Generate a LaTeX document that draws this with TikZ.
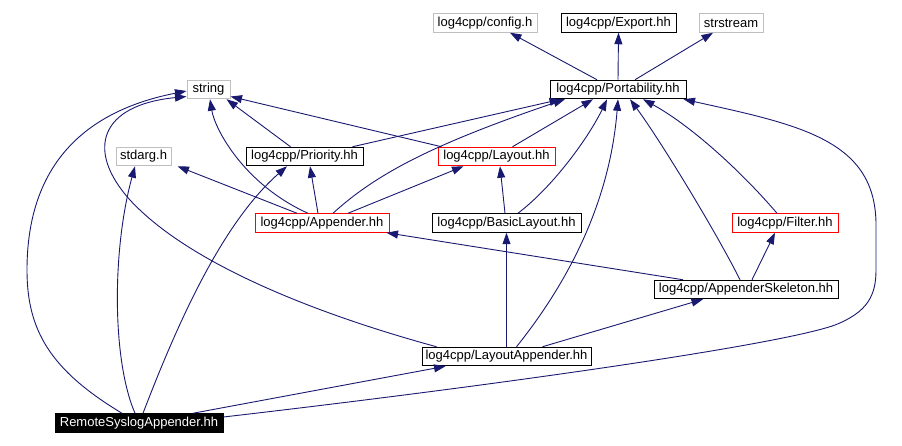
\documentclass[tikz,border=0pt]{standalone}
\usepackage{fontspec}
\setmainfont{Liberation Sans}
\usetikzlibrary{arrows.meta}
\definecolor{dxedge}{HTML}{191970}
\definecolor{dxgray}{HTML}{BFBFBF}
\definecolor{dxred}{HTML}{FF0000}
\tikzset{
  hdr/.style={draw=black,line width=1pt,fill=white,inner sep=0pt,
              minimum height=18.5pt,font=\fontsize{13}{15}\selectfont,text=black},
  syshdr/.style={hdr,draw=dxgray},
  trunc/.style={hdr,draw=dxred},
  selfhdr/.style={hdr,fill=black,text=white},
  inc/.style={-{Triangle[length=11.5pt,width=8pt]},line width=0.9pt,draw=dxedge},
}

\begin{document}
\begin{tikzpicture}[x=1pt,y=-1pt]
  \useasboundingbox (0,0) rectangle (902,446);
  % ================= headers =================
  \node[syshdr,minimum width=104pt] (cfg)   at (485,23)    {log4cpp/config.h};
  \node[hdr,minimum width=115pt]    (exp)   at (618.5,23)  {log4cpp/Export.hh};
  \node[syshdr,minimum width=64pt]  (sst)   at (731,23)    {strstream};
  \node[hdr,minimum width=136pt]    (port)  at (618,89.5)  {log4cpp/Portability.hh};
  \node[syshdr,minimum width=43pt]  (str)   at (208.5,89.5){string};
  \node[syshdr,minimum width=55pt]  (std)   at (143.5,156.5){stdarg.h};
  \node[hdr,minimum width=117pt]    (prio)  at (304.5,156.5){log4cpp/Priority.hh};
  \node[trunc,minimum width=117pt]  (lay)   at (496.5,156.5){log4cpp/Layout.hh};
  \node[trunc,minimum width=134pt]  (app)   at (322,223)   {log4cpp/Appender.hh};
  \node[hdr,minimum width=149pt]    (basic) at (506.5,223) {log4cpp/BasicLayout.hh};
  \node[trunc,minimum width=106pt]  (filt)  at (785,223)   {log4cpp/Filter.hh};
  \node[hdr,minimum width=184pt]    (skel)  at (746,289.5) {log4cpp/AppenderSkeleton.hh};
  \node[hdr,minimum width=169pt]    (lapp)  at (506.5,356.5){log4cpp/LayoutAppender.hh};
  \node[selfhdr,minimum width=168pt](rsa)   at (139,423)   {RemoteSyslogAppender.hh};

  % ================= Portability.hh =================
  \draw[inc] ([xshift=-21]port.north) -- ([xshift=25]cfg.south);
  \draw[inc] (port.north) -- (exp.south);
  \draw[inc] ([xshift=17]port.north) -- ([xshift=-18]sst.south);

  % ================= Priority.hh / Layout.hh =================
  \draw[inc] ([xshift=-14]prio.north) -- ([xshift=18]str.south);
  \draw[inc] ([xshift=48]prio.north) -- ([xshift=-57]port.south);
  \draw[inc] ([xshift=-55]lay.north) -- ([yshift=-7]str.east);
  \draw[inc] ([xshift=16]lay.north) -- ([xshift=-25]port.south);

  % ================= Appender.hh =================
  \draw[inc] ([xshift=-14]app.north) .. controls (245,185) and (215,130) .. ([xshift=1.5]str.south);
  \draw[inc] ([xshift=-25]app.north) -- ([xshift=34]std.south);
  \draw[inc] ([xshift=-4]app.north) -- ([xshift=5.5]prio.south);
  \draw[inc] ([xshift=26]app.north) -- ([xshift=-33]lay.south);
  \draw[inc] ([xshift=11]app.north) .. controls (375,175) and (430,145) .. ([xshift=-53]port.south);

  % ================= BasicLayout.hh / Filter.hh =================
  \draw[inc] ([xshift=-1.5]basic.north) -- ([xshift=3.5]lay.south);
  \draw[inc] ([xshift=11.5]basic.north) .. controls (555,185) and (590,135) .. ([xshift=-11]port.south);
  \draw[inc] ([xshift=-8]filt.north) .. controls (740,170) and (690,125) .. ([xshift=25]port.south);

  % ================= AppenderSkeleton.hh =================
  \draw[inc] ([xshift=-63]skel.north) -- ([xshift=-3]app.south east);
  \draw[inc] ([xshift=6]skel.north) -- ([xshift=-10]filt.south);
  \draw[inc] ([xshift=-6]skel.north) .. controls (715,230) and (660,140) .. ([xshift=12]port.south);

  % ================= LayoutAppender.hh =================
  \draw[inc] (lapp.north) -- (basic.south);
  \draw[inc] ([xshift=36]lapp.north) -- ([xshift=-43]skel.south);
  \draw[inc] ([xshift=10]lapp.north) .. controls (570,280) and (610,200) .. (port.south);
  \draw[inc] ([xshift=-70]lapp.north) .. controls (320,315) and (190,265) .. (130,200)
             .. controls (85,150) and (100,105) .. ([yshift=-7]str.west);

  % ================= RemoteSyslogAppender.hh =================
  \draw[inc] ([xshift=-17]rsa.north) .. controls (50,370) and (27,330) .. (27,270)
             .. controls (27,160) and (90,110) .. ([yshift=-1.5]str.west);
  \draw[inc] ([xshift=-4]rsa.north) .. controls (112,360) and (112,250) .. ([xshift=-8.5]std.south);
  \draw[inc] ([xshift=4]rsa.north) .. controls (175,330) and (220,225) .. ([xshift=-17.5]prio.south);
  \draw[inc] ([xshift=54]rsa.north) -- ([xshift=-61]lapp.south);
  \draw[inc] ([yshift=6]rsa.east) .. controls (500,385) and (780,345) .. (835,325)
             .. controls (868,312) and (876,295) .. (876,270) -- (876,225)
             .. controls (876,140) and (800,125) .. ([xshift=-3]port.south east);
\end{tikzpicture}
\end{document}
